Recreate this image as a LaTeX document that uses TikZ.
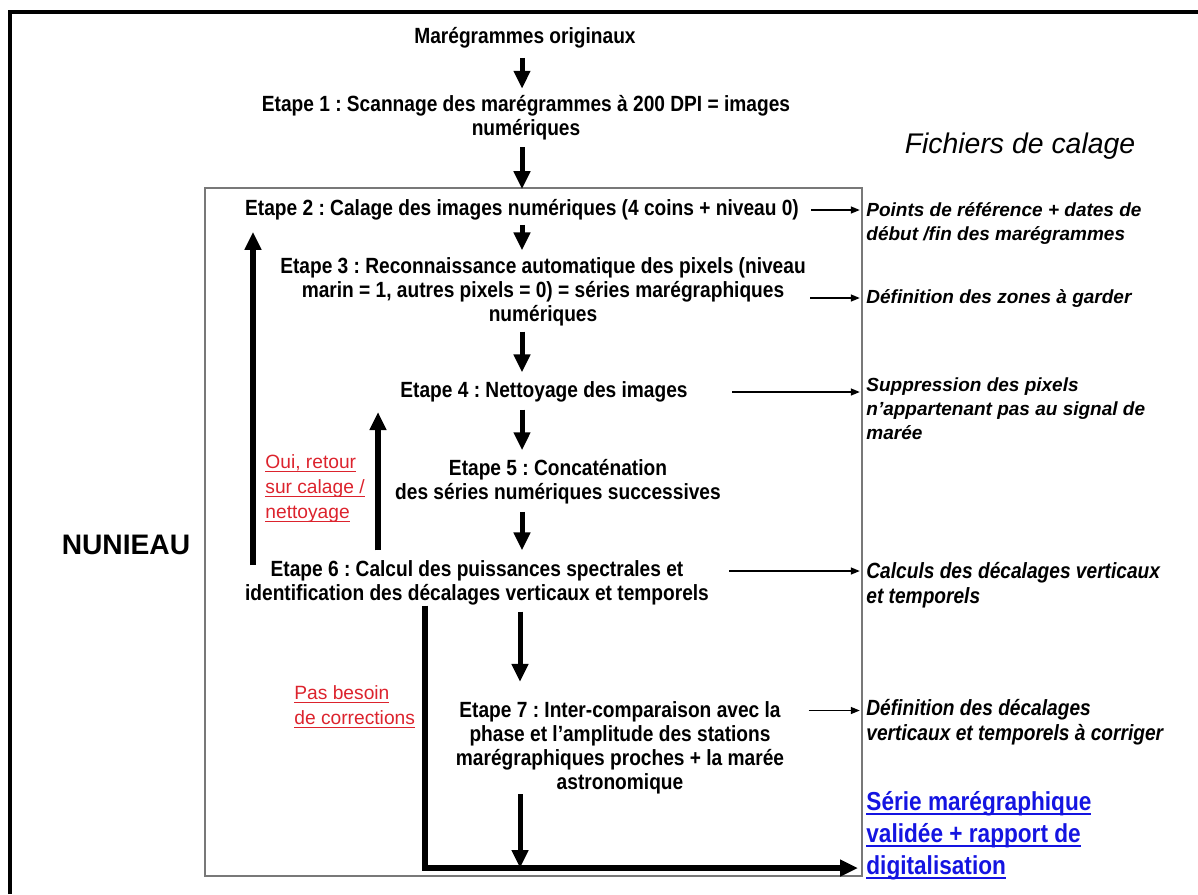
\documentclass[tikz,border=0pt]{standalone}
\usepackage{fontspec}
\setmainfont{Liberation Sans}
\newfontfamily\nb[FakeStretch=0.87]{Liberation Sans}
\usetikzlibrary{arrows.meta,calc}
\definecolor{redL}{RGB}{220,35,45}
\definecolor{blueL}{RGB}{20,20,225}
\definecolor{boxgray}{RGB}{120,120,120}
\newlength\uldp \newlength\ulth
\setlength\uldp{1.6pt}\setlength\ulth{0.5pt}
\newcommand\ulx[1]{\leavevmode\setbox0=\hbox{#1}\rlap{\rule[-\uldp]{\wd0}{\ulth}}\box0}
\frenchspacing
\begin{document}
\begin{tikzpicture}[x=0.5pt,y=-0.5pt,
  etape/.style={font=\nb\bfseries\fontsize{11}{12}\selectfont, align=center, inner sep=0pt},
  note/.style={font=\bfseries\itshape\fontsize{9.5}{12}\selectfont, align=left, inner sep=0pt, anchor=west},
  notenar/.style={font=\nb\bfseries\itshape\fontsize{11}{12.3}\selectfont, align=left, inner sep=0pt, anchor=west},
  rednote/.style={font=\fontsize{9.6}{12.5}\selectfont\setlength\uldp{1.6pt}\setlength\ulth{0.5pt}, text=redL, align=left, inner sep=0pt, anchor=west},
  bluenote/.style={font=\nb\bfseries\fontsize{13}{16}\selectfont\setlength\uldp{1.9pt}\setlength\ulth{1pt}, text=blueL, align=left, inner sep=0pt, anchor=west},
  big/.style={line width=2.5pt, -{Triangle[width=8pt,length=9pt]}},
  fb/.style={line width=3pt, -{Triangle[width=8pt,length=9pt]}},
  thin/.style={line width=0.7pt, -{Triangle[width=3.5pt,length=4.5pt]}},
  frame/.style={draw=boxgray, line width=0.8pt, inner sep=0pt, minimum width=328.5pt, minimum height=344pt},
]
\useasboundingbox (0,0) rectangle (1198,894);
% outer frame
\draw[line width=1.6pt] (10,894) -- (10,12) -- (1198,12);
% inner box
\node[frame] (frame) at (533.5,532) {};
% texts
\node[etape] (top) at (525,38) {Marégrammes originaux};
\node[etape] (e1) at (526,117.5) {Etape 1 : Scannage des marégrammes à 200 DPI = images\\numériques};
\node[font=\itshape\fontsize{14.2}{16}\selectfont, inner sep=0pt] (fich) at (1020,146) {Fichiers de calage};
\node[etape] (e2) at (522,210) {Etape 2 : Calage des images numériques (4 coins + niveau 0)};
\node[etape] (e3) at (543,292) {Etape 3 : Reconnaissance automatique des pixels (niveau\\marin = 1, autres pixels = 0) = séries marégraphiques\\numériques};
\node[etape] (e4) at (544,392) {Etape 4 : Nettoyage des images};
\node[etape] (e5) at (558,482) {Etape 5 : Concaténation\\des séries numériques successives};
\node[etape] (e6) at (477,583) {Etape 6 : Calcul des puissances spectrales et\\identification des décalages verticaux et temporels};
\node[etape] (e7) at (620,747.5) {Etape 7 : Inter-comparaison avec la\\phase et l’amplitude des stations\\marégraphiques proches + la marée\\astronomique};
\node[font=\bfseries\fontsize{14.1}{16}\selectfont, inner sep=0pt] (nun) at (126,545) {NUNIEAU};
% right notes
\node[note] (r2) at (866,224) {Points de référence + dates de\\début /fin des marégrammes};
\node[note] (r3) at (866,298) {Définition des zones à garder};
\node[note] (r4) at (866,409) {Suppression des pixels\\n’appartenant pas au signal de\\marée};
\node[notenar] (r6) at (866,585) {Calculs des décalages verticaux\\et temporels};
\node[notenar] (r7) at (866,722.5) {Définition des décalages\\verticaux et temporels à corriger};
\node[bluenote] (out) at (866,836) {\ulx{Série marégraphique}\\\ulx{validée + rapport de}\\\ulx{digitalisation}};
% red notes
\node[rednote] (oui) at (265,489) {\ulx{Oui, retour}\\\ulx{sur calage /}\\\ulx{nettoyage}};
\node[rednote] (pas) at (294,707) {\ulx{Pas besoin}\\\ulx{de corrections}};
% coordinates
\coordinate (ax) at (522,0);
\coordinate (bx) at (520,0);
\coordinate (corner) at (425,868);
% main arrows
\draw[big, shorten <=4.5pt, shorten >=3pt] (top.south -| ax) -- (e1.north -| ax);
\draw[big, shorten <=3.5pt, shorten >=-1pt] (e1.south -| ax) -- (frame.north -| ax);
\draw[big, shorten <=2pt, shorten >=3.5pt] (e2.south -| ax) -- (e3.north -| ax);
\draw[big, shorten <=2.5pt, shorten >=4.5pt] (e3.south -| ax) -- (e4.north -| ax);
\draw[big, shorten <=3.5pt, shorten >=4.5pt] (e4.south -| ax) -- (e5.north -| ax);
\draw[big, shorten <=3.5pt, shorten >=5pt] (e5.south -| ax) -- (e6.north -| ax);
\draw[big, shorten <=3pt, shorten >=9.5pt] (e6.south -| bx) -- (e7.north -| bx);
\draw[big, shorten <=0pt] (e7.south -| bx) -- (corner -| bx);
% bottom path
\draw[fb, line width=3.2pt, shorten >=4pt] (e6.south -| corner) -- (corner) -- (corner -| out.west);
% feedback arrows
\draw[fb, shorten <=9pt, shorten >=5.5pt] (e6 -| 253,0) -- (e2.south -| 253,0);
\draw[fb, shorten <=5pt, shorten >=10pt] (e6.north -| 378,0) -- (e4 -| 378,0);
% thin arrows
\draw[thin, shorten <=6pt, shorten >=1.5pt] (e2.east) -- (frame.east |- e2.east);
\draw[thin, shorten <=2pt, shorten >=1.5pt] (e3.east |- r3.west) -- (frame.east |- r3.west);
\draw[thin, shorten <=22pt, shorten >=1.5pt] (e4.east |- e4.east) -- (frame.east |- e4.east);
\draw[thin, shorten <=10pt, shorten >=1.5pt] ([shift={(0,-12)}]e6.east) -- ([shift={(0,-12)}]frame.east |- e6.east);
\draw[thin, shorten <=12pt, shorten >=1.5pt] ([shift={(0,-37)}]e7.east) -- ([shift={(0,-37)}]frame.east |- e7.east);
\end{tikzpicture}
\end{document}
